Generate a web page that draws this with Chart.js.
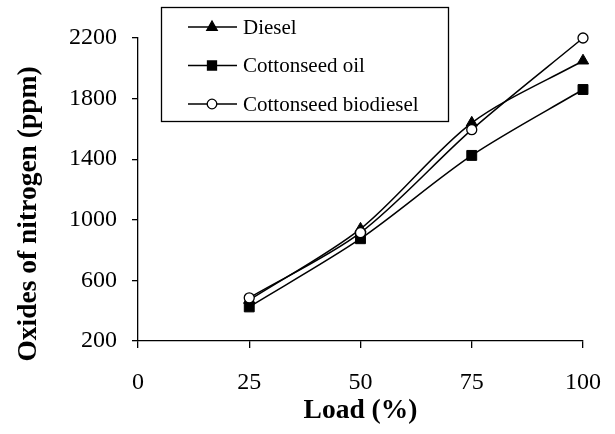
<!DOCTYPE html>
<html>
<head>
<meta charset="utf-8">
<script src="https://cdn.jsdelivr.net/npm/chart.js@4.4.1/dist/chart.umd.min.js"></script>
<style>
    html, body { margin: 0; padding: 0; background: #fff; }
    #wrap { width: 615px; height: 434px; }
</style>
</head>
<body>
<div id="wrap"><canvas id="noxChart" width="615" height="434"></canvas></div>
<script>
// Load points (%)
const loads = [25, 50, 75, 100];
// NOx values (ppm)
const dieselNox = [470, 940, 1640, 2050];
const oilNox = [425, 875, 1425, 1860];
const biodieselNox = [485, 915, 1595, 2200];
const seriesNames = ['Diesel', 'Cottonseed oil', 'Cottonseed biodiesel'];
const xTicks = [0, 25, 50, 75, 100];
const yTicks = [200, 600, 1000, 1400, 1800, 2200];
const yTitle = 'Oxides of nitrogen (ppm)';

const serif = "'Liberation Serif', 'Times New Roman', serif";

function toPoints(values) {
    return loads.map((x, i) => ({ x: x, y: values[i] }));
}

// draw a small marker like the series one (used by the legend)
function drawMarker(ctx, style, x, y, r, fill) {
    ctx.beginPath();
    if (style === 'triangle') {
        ctx.moveTo(x, y - r);
        ctx.lineTo(x + r * 0.87, y + r * 0.55);
        ctx.lineTo(x - r * 0.87, y + r * 0.55);
        ctx.closePath();
    } else if (style === 'rect') {
        ctx.rect(x - r * 0.75, y - r * 0.75, r * 1.5, r * 1.5);
    } else {
        ctx.arc(x, y, r * 0.8, 0, Math.PI * 2);
    }
    ctx.fillStyle = fill;
    ctx.fill();
    ctx.stroke();
}

const legendBox = {
    id: 'legendBox',
    afterDraw(chart) {
        const ctx = chart.ctx;
        ctx.save();
        ctx.strokeStyle = '#000';
        ctx.lineWidth = 1.3;
        ctx.strokeRect(161.5, 7.5, 287, 114);
        ctx.font = '21px ' + serif;
        ctx.textBaseline = 'middle';
        ctx.textAlign = 'left';
        chart.data.datasets.forEach((ds, i) => {
            const y = 27 + i * 38.5;
            ctx.strokeStyle = '#000';
            ctx.lineWidth = 1.5;
            ctx.beginPath();
            ctx.moveTo(188, y);
            ctx.lineTo(237, y);
            ctx.stroke();
            ctx.lineWidth = 1.3;
            drawMarker(ctx, ds.pointStyle, 212, y, 6, ds.pointBackgroundColor);
            ctx.fillStyle = '#000';
            ctx.fillText(ds.label, 243, y + 1);
        });

        // y axis title, placed a bit lower than the scale centre like the original
        ctx.translate(29, 214);
        ctx.rotate(-Math.PI / 2);
        ctx.textAlign = 'center';
        ctx.font = 'bold 27.5px ' + serif;
        ctx.fillText(yTitle, 0, 0);
        ctx.restore();
    }
};

const ctx = document.getElementById('noxChart').getContext('2d');
const noxChart = new Chart(ctx, {
    type: 'line',
    data: {
        datasets: [
            {
                label: seriesNames[0],
                data: toPoints(dieselNox),
                borderColor: '#000',
                borderWidth: 1.5,
                pointStyle: 'triangle',
                pointRadius: 6.5,
                pointBackgroundColor: '#000',
                pointBorderColor: '#000',
                pointBorderWidth: 1,
                tension: 0.3,
                clip: false,
                order: 2
            },
            {
                label: seriesNames[1],
                data: toPoints(oilNox),
                borderColor: '#000',
                borderWidth: 1.5,
                pointStyle: 'rect',
                pointRadius: 7,
                pointBackgroundColor: '#000',
                pointBorderColor: '#000',
                pointBorderWidth: 1,
                tension: 0.3,
                clip: false,
                order: 3
            },
            {
                label: seriesNames[2],
                data: toPoints(biodieselNox),
                borderColor: '#000',
                borderWidth: 1.5,
                pointStyle: 'circle',
                pointRadius: 5,
                pointBackgroundColor: '#fff',
                pointBorderColor: '#000',
                pointBorderWidth: 1.3,
                tension: 0.3,
                clip: false,
                order: 1
            }
        ]
    },
    options: {
        responsive: false,
        animation: false,
        layout: {
            padding: { top: 38, right: 32, left: 0, bottom: 0 }
        },
        scales: {
            x: {
                type: 'linear',
                min: 0,
                max: 100,
                afterFit: function(scale) {
                    scale.height = 93;
                    scale.paddingLeft = 0;
                    scale.paddingRight = 0;
                },
                afterBuildTicks: function(scale) {
                    scale.ticks = xTicks.map(v => ({ value: v }));
                },
                grid: {
                    drawOnChartArea: false,
                    drawTicks: true,
                    tickLength: 7,
                    color: '#000',
                    lineWidth: 1.3
                },
                border: { color: '#000', width: 1.3 },
                ticks: {
                    color: '#000',
                    padding: 20,
                    maxRotation: 0,
                    font: { family: serif, size: 24 },
                    callback: function(value) { return String(value); }
                },
                title: {
                    display: true,
                    text: 'Load (%)',
                    color: '#000',
                    padding: { bottom: 7 },
                    font: { family: serif, size: 27.5, weight: 'bold' }
                }
            },
            y: {
                min: 200,
                max: 2200,
                afterFit: function(scale) {
                    scale.width = 138;
                    scale.paddingTop = 0;
                    scale.paddingBottom = 0;
                },
                afterBuildTicks: function(scale) {
                    scale.ticks = yTicks.map(v => ({ value: v }));
                },
                grid: {
                    drawOnChartArea: false,
                    drawTicks: true,
                    tickLength: 6,
                    color: '#000',
                    lineWidth: 1.3
                },
                border: { color: '#000', width: 1.3 },
                ticks: {
                    color: '#000',
                    padding: 15,
                    font: { family: serif, size: 24 },
                    callback: function(value) { return String(value); }
                },
                title: { display: false }
            }
        },
        plugins: {
            legend: { display: false },
            tooltip: { enabled: false }
        }
    },
    plugins: [legendBox]
});
</script>
</body>
</html>
